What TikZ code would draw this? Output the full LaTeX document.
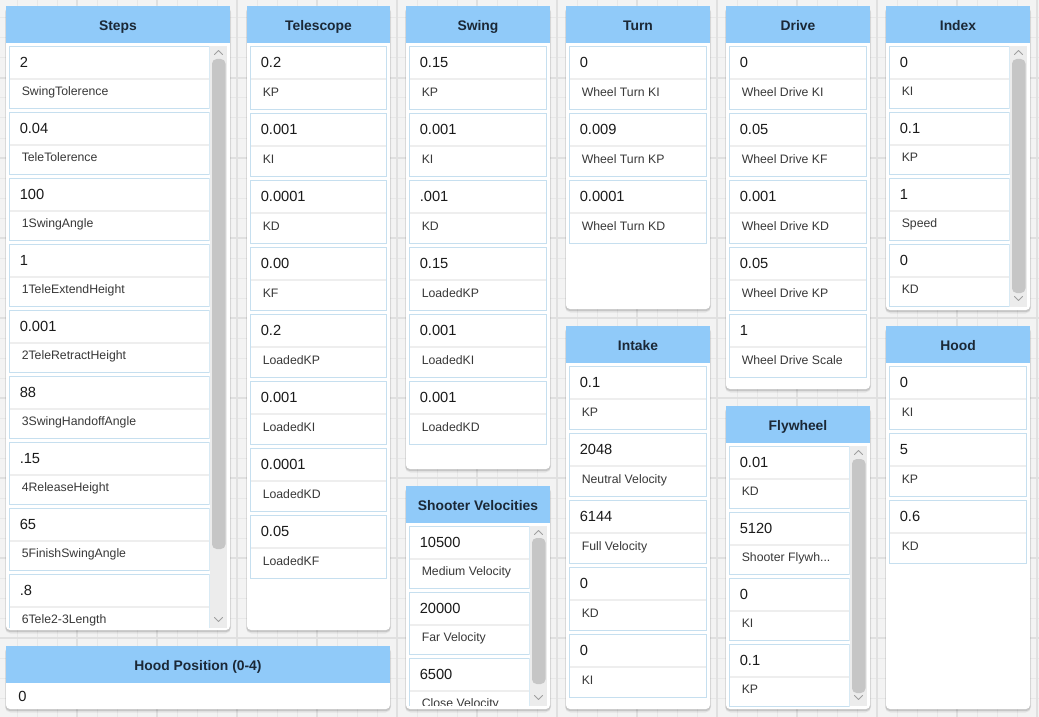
\documentclass[tikz,border=0pt]{standalone}
\usepackage{fontspec}
\setmainfont{Liberation Sans}
\definecolor{bgc}{HTML}{F3F3F3}
\definecolor{gridminor}{HTML}{E8E8E8}
\definecolor{gridmajor}{HTML}{E0E0E0}
\definecolor{hdr}{HTML}{90CAF9}
\definecolor{hdrtext}{HTML}{1B2836}
\definecolor{entryborder}{HTML}{C6DFEF}
\definecolor{divider}{HTML}{EEEEEE}
\definecolor{track}{HTML}{ECECEC}
\definecolor{thumb}{HTML}{C6C6C6}
\definecolor{arrowc}{HTML}{A0A0A0}
\definecolor{valtext}{HTML}{1A1A1A}
\definecolor{labtext}{HTML}{383838}
\tikzset{
  titletext/.style={font=\fontsize{10.4}{12}\selectfont\bfseries, text=hdrtext, inner sep=0pt, anchor=base},
  valuetext/.style={font=\fontsize{11}{13}\selectfont, text=valtext, inner sep=0pt, anchor=base west},
  labeltext/.style={font=\fontsize{9.2}{11}\selectfont, text=labtext, inner sep=0pt, anchor=base west},
  entrybox/.style={draw=entryborder, line width=0.75pt, fill=white},
  chevron/.style={draw=arrowc, line width=0.6pt, line cap=round, line join=round},
}
% panel: x1 y1 x2 y2 title name
\newcommand\dashpanel[6]{%
  \fill[black,opacity=0.06,rounded corners=4pt] (#1-1,#2+1) rectangle (#3+1,#4+3.5);
  \fill[black,opacity=0.13,rounded corners=3pt] (#1-0.5,#2+1) rectangle (#3+0.5,#4+2);
  \fill[white,rounded corners=3pt] (#1,#2) rectangle (#3,#4);
  \fill[hdr] (#1,#2) rectangle (#3,#2+37);
  \node[titletext] (#6) at ({(#1+#3)/2},#2+24.5) {#5};
}
% entry: x1 x2 top height value label name
\newcommand\dashentry[7]{%
  \draw[entrybox] (#1+0.5,#3+0.5) rectangle (#2-0.5,#3+#4-0.5);
  \fill[divider] (#1+1,#3+32) rectangle (#2-1,#3+34);
  \node[valuetext] (#7v) at (#1+10.5,#3+21.7) {#5};
  \node[labeltext] (#7l) at (#1+12.5,#3+#4-13.5) {#6};
}
% scrollbar: x1 x2 top bottom thumbtop thumbbottom
\newcommand\dashscroll[6]{%
  \fill[track] (#1,#3) rectangle (#2,#4);
  \fill[thumb,rounded corners=3.5pt] (#1+2,#5) rectangle (#2-1.5,#6);
  \draw[chevron] ({(#1+#2)/2-4},#3+8.5) -- ({(#1+#2)/2},#3+4.5) -- ({(#1+#2)/2+4},#3+8.5);
  \draw[chevron] ({(#1+#2)/2-4},#4-10.5) -- ({(#1+#2)/2},#4-6.5) -- ({(#1+#2)/2+4},#4-10.5);
}
\begin{document}
\begin{tikzpicture}[x=0.75pt,y=-0.75pt]
\useasboundingbox (0,0) rectangle (1039,717);
% background grid
\fill[bgc] (0,0) rectangle (1039,717);
\foreach \gx in {17,37,...,1037} \draw[gridminor,line width=0.75pt] (\gx,0) -- (\gx,717);
\foreach \gy in {18,38,...,708} \draw[gridminor,line width=0.75pt] (0,\gy) -- (1039,\gy);
\foreach \gx in {77,157,...,1037} \draw[gridmajor,line width=1.8pt] (\gx,0) -- (\gx,717);
\foreach \gy in {78,158,...,708} \draw[gridmajor,line width=1.8pt] (0,\gy) -- (1039,\gy);

% ---- Steps
\dashpanel{6}{6}{230}{630}{Steps}{steps}
\begin{scope}
  \clip (6,43) rectangle (209.5,627.5);
  \foreach \v/\l [count=\i from 0] in {2/SwingTolerence,0.04/TeleTolerence,100/1SwingAngle,1/1TeleExtendHeight,0.001/2TeleRetractHeight,88/3SwingHandoffAngle,.15/4ReleaseHeight,65/5FinishSwingAngle,.8/6Tele2-3Length}
    {\dashentry{9}{209.5}{46+66*\i}{63}{\v}{\l}{stepsE\i}}
\end{scope}
\dashscroll{210}{227}{46}{628}{59}{549}

% ---- Telescope
\dashpanel{247}{6}{390}{630}{Telescope}{tele}
\foreach \v/\l [count=\i from 0] in {0.2/KP,0.001/KI,0.0001/KD,0.00/KF,0.2/LoadedKP,0.001/LoadedKI,0.0001/LoadedKD,0.05/LoadedKF}
  {\dashentry{250}{387}{46+67*\i}{64}{\v}{\l}{teleE\i}}

% ---- Hood Position
\dashpanel{6}{646}{390}{709}{Hood Position (0-4)}{hoodpos}
\node[valuetext] (hoodposv) at (18,701.5) {0};

% ---- Swing
\dashpanel{406}{6}{550}{469}{Swing}{swing}
\foreach \v/\l [count=\i from 0] in {0.15/KP,0.001/KI,.001/KD,0.15/LoadedKP,0.001/LoadedKI,0.001/LoadedKD}
  {\dashentry{409}{547}{46+67*\i}{64}{\v}{\l}{swingE\i}}

% ---- Shooter Velocities
\dashpanel{406}{486}{550}{709}{Shooter Velocities}{shooter}
\begin{scope}
  \clip (406,523) rectangle (529.5,705.5);
  \foreach \v/\l [count=\i from 0] in {10500/Medium Velocity,20000/Far Velocity,6500/Close Velocity}
    {\dashentry{409}{529.5}{526+66*\i}{63}{\v}{\l}{shootE\i}}
\end{scope}
\dashscroll{530}{547}{526}{706}{538}{684}

% ---- Turn
\dashpanel{566}{6}{710}{309}{Turn}{turn}
\foreach \v/\l [count=\i from 0] in {0/Wheel Turn KI,0.009/Wheel Turn KP,0.0001/Wheel Turn KD}
  {\dashentry{569}{707}{46+67*\i}{64}{\v}{\l}{turnE\i}}

% ---- Intake
\dashpanel{566}{326}{710}{709}{Intake}{intake}
\foreach \v/\l [count=\i from 0] in {0.1/KP,2048/Neutral Velocity,6144/Full Velocity,0/KD,0/KI}
  {\dashentry{569}{707}{366+67*\i}{64}{\v}{\l}{intakeE\i}}

% ---- Drive
\dashpanel{726}{6}{870}{389}{Drive}{drive}
\foreach \v/\l [count=\i from 0] in {0/Wheel Drive KI,0.05/Wheel Drive KF,0.001/Wheel Drive KD,0.05/Wheel Drive KP,1/Wheel Drive Scale}
  {\dashentry{729}{867}{46+67*\i}{64}{\v}{\l}{driveE\i}}

% ---- Flywheel
\dashpanel{726}{406}{870}{709}{Flywheel}{fly}
\begin{scope}
  \clip (726,443) rectangle (849.5,706.5);
  \dashentry{729}{849.5}{446}{63}{0.01}{KD}{flyE0}
  \dashentry{729}{849.5}{512}{63}{5120}{Shooter Flywh...}{flyE1}
  \dashentry{729}{849.5}{578}{63}{0}{KI}{flyE2}
  \dashentry{729}{849.5}{644}{63}{0.1}{KP}{flyE3}
\end{scope}
\dashscroll{850}{867}{446}{706}{459}{693}

% ---- Index
\dashpanel{886}{6}{1030}{310}{Index}{index}
\begin{scope}
  \clip (886,43) rectangle (1009.5,307.5);
  \foreach \v/\l [count=\i from 0] in {0/KI,0.1/KP,1/Speed,0/KD}
    {\dashentry{889}{1009.5}{46+66*\i}{63}{\v}{\l}{indexE\i}}
\end{scope}
\dashscroll{1010}{1027}{46}{307}{59}{293}

% ---- Hood
\dashpanel{886}{326}{1030}{709}{Hood}{hood}
\foreach \v/\l [count=\i from 0] in {0/KI,5/KP,0.6/KD}
  {\dashentry{889}{1027}{366+67*\i}{64}{\v}{\l}{hoodE\i}}
\end{tikzpicture}
\end{document}
